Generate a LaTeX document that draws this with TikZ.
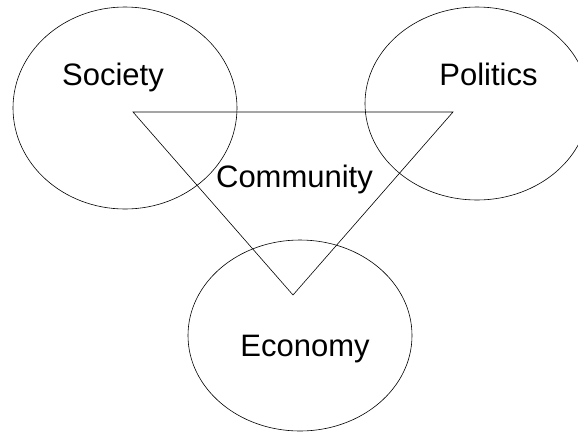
\documentclass[tikz,border=0pt]{standalone}
\usepackage{fontspec}
\setmainfont{Liberation Sans}
\usetikzlibrary{shapes.geometric}

\begin{document}
\begin{tikzpicture}
    [
        Sphere/.style={ellipse, draw, line width=0.6pt, inner sep=0pt, minimum width=224pt},
        Caption/.style={font=\fontsize{31}{36}\selectfont, inner sep=0pt, anchor=base},
        Edge/.style={line width=0.6pt}
    ]
    \clip (0,0) rectangle (578pt,-432pt);

    \node[Sphere, minimum height=202pt] (society_ring) at (125pt,-108pt) {};
    \node[Sphere, minimum height=193pt] (politics_ring) at (477pt,-103.5pt) {};
    \node[Sphere, minimum height=191pt] (economy_ring) at (300pt,-335.5pt) {};

    \coordinate (corner_society) at (133pt,-112pt);
    \coordinate (corner_politics) at (453pt,-112pt);
    \coordinate (corner_economy) at (293pt,-295pt);
    \draw[Edge] (corner_society) -- (corner_politics) -- (corner_economy) -- cycle;

    \node[Caption] (society) at (113pt,-85pt) {Society};
    \node[Caption] (politics) at (488.5pt,-85pt) {Politics};
    \node[Caption] (community) at (294.5pt,-187pt) {Community};
    \node[Caption] (economy) at (305pt,-356pt) {Economy};
\end{tikzpicture}
\end{document}
